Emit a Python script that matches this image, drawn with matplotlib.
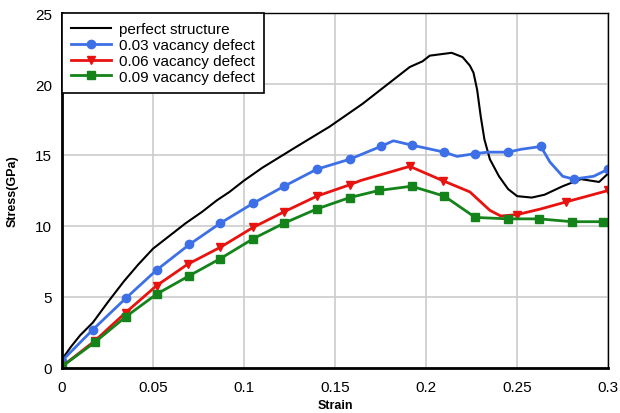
import matplotlib
matplotlib.use('Agg')
import matplotlib.pyplot as plt
import numpy as np

plt.rcParams['font.family'] = ['Liberation Sans', 'DejaVu Sans']

# --- dados ---
strain_perfect = [0, 0.005, 0.01, 0.017, 0.025, 0.034, 0.042, 0.05, 0.06, 0.068,
                  0.077, 0.085, 0.092, 0.1, 0.11, 0.129, 0.147, 0.165, 0.18, 0.191,
                  0.198, 0.202, 0.214, 0.22, 0.224, 0.226, 0.228, 0.23, 0.232, 0.235,
                  0.24, 0.245, 0.25, 0.258, 0.265, 0.275, 0.285, 0.295, 0.3]
stress_perfect = [0.6, 1.5, 2.3, 3.2, 4.6, 6.1, 7.3, 8.4, 9.4, 10.2,
                  11.0, 11.8, 12.4, 13.2, 14.1, 15.6, 17.0, 18.6, 20.1, 21.2,
                  21.6, 22.0, 22.2, 21.9, 21.3, 20.8, 19.6, 17.7, 16.1, 14.7,
                  13.5, 12.6, 12.1, 12.0, 12.2, 12.8, 13.3, 13.1, 13.7]

strain_03 = [0, 0.017, 0.035, 0.052, 0.070, 0.087, 0.105, 0.122, 0.140, 0.158,
             0.175, 0.182, 0.192, 0.210, 0.217, 0.227, 0.234, 0.245, 0.252, 0.263,
             0.268, 0.275, 0.281, 0.292, 0.3]
stress_03 = [0.5, 2.7, 4.9, 6.9, 8.7, 10.2, 11.6, 12.8, 14.0, 14.7,
             15.6, 16.0, 15.7, 15.2, 14.9, 15.1, 15.2, 15.2, 15.4, 15.6,
             14.5, 13.5, 13.3, 13.5, 14.0]

strain_06 = [0, 0.018, 0.035, 0.052, 0.069, 0.087, 0.105, 0.122, 0.140, 0.158,
             0.164, 0.191, 0.209, 0.224, 0.235, 0.241, 0.25, 0.263, 0.277, 0.3]
stress_06 = [0.1, 1.9, 3.9, 5.8, 7.3, 8.5, 9.9, 11.0, 12.1, 12.9,
             13.2, 14.2, 13.2, 12.4, 11.1, 10.7, 10.8, 11.2, 11.7, 12.5]

strain_09 = [0, 0.018, 0.035, 0.052, 0.070, 0.087, 0.105, 0.122, 0.140, 0.158,
             0.174, 0.192, 0.210, 0.227, 0.245, 0.262, 0.280, 0.297, 0.3]
stress_09 = [0.1, 1.8, 3.6, 5.2, 6.5, 7.7, 9.1, 10.2, 11.2, 12.0,
             12.5, 12.8, 12.1, 10.6, 10.5, 10.5, 10.3, 10.3, 10.0]

labels = ['perfect structure', '0.03 vacancy defect',
          '0.06 vacancy defect', '0.09 vacancy defect']

# --- gráfico ---
fig = plt.figure(figsize=(6.2, 4.14), dpi=100)
ax = fig.add_axes([0.1, 0.109, 0.881, 0.857])

ax.plot(strain_perfect, stress_perfect, color='black', lw=1.5, label=labels[0])
ax.plot(strain_03, stress_03, color='#3d6fe6', lw=2, marker='o', ms=6,
        markevery=[0, 1, 2, 3, 4, 5, 6, 7, 8, 9, 10, 12, 13, 15, 17, 19, 22, 24],
        label=labels[1])
ax.plot(strain_06, stress_06, color='#e8120f', lw=2, marker='v', ms=6,
        markevery=list(range(10)) + [11, 12, 16, 18, 19], label=labels[2])
ax.plot(strain_09, stress_09, color='#13831a', lw=2, marker='s', ms=5.5,
        markevery=list(range(18)), label=labels[3])

ax.set_xlim(0, 0.3)
ax.set_ylim(0, 25)
ax.set_xticks([0, 0.05, 0.1, 0.15, 0.2, 0.25, 0.3])
ax.set_xticklabels(['0', '0.05', '0.1', '0.15', '0.2', '0.25', '0.3'])
ax.set_yticks([0, 5, 10, 15, 20, 25])
ax.grid(True, color='#cccccc', lw=1.2)
ax.set_axisbelow(True)
ax.tick_params(axis='x', length=0, labelsize=11, pad=9)
ax.tick_params(axis='y', length=0, labelsize=11, pad=7)

for side in ['left', 'bottom']:
    ax.spines[side].set_linewidth(2)
for side in ['top', 'right']:
    ax.spines[side].set_linewidth(1)

ax.set_xlabel('Strain', fontsize=9, fontweight='bold', labelpad=3)
ax.set_ylabel('Stress(GPa)', fontsize=9, fontweight='bold', labelpad=12)

leg = ax.legend(loc='upper left', fontsize=11, borderaxespad=0, frameon=True,
                fancybox=False, edgecolor='black', handlelength=2.6,
                labelspacing=0.12, borderpad=0.6, handletextpad=0.5)
leg.get_frame().set_linewidth(1.2)
leg.get_frame().set_alpha(1)

plt.savefig('out.png', dpi=100)
